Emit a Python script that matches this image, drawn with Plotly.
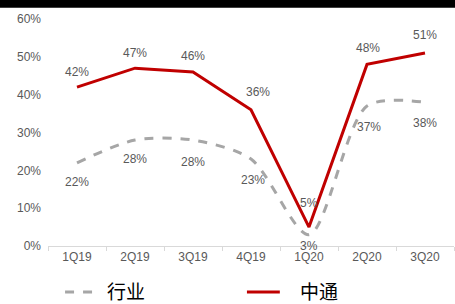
import plotly.graph_objects as go

categories = ["1Q19", "2Q19", "3Q19", "4Q19", "1Q20", "2Q20", "3Q20"]
industry = [22, 28, 28, 23, 3, 37, 38]
zto = [42, 47, 46, 36, 5, 48, 51]
y_ticks = [0, 10, 20, 30, 40, 50, 60]
y_tick_labels = ["0%", "10%", "20%", "30%", "40%", "50%", "60%"]

# label offsets in pixels (style only)
industry_label_shift = [-19, -19, -22, -21, -11, -21, -21]
industry_label_xshift = [0, 0, 0, 2, 0, 2, 0]
zto_label_shift = [15, 15, 16, 18, 24, 16, 18]
zto_label_xshift = [0, 0, 0, 7, 0, 1, 0]

label_font = dict(family="Liberation Sans, Arial", size=12, color="#595959")

fig = go.Figure()
fig.add_trace(go.Scatter(
    x=categories, y=industry, name="行业", mode="lines",
    line=dict(color="#A6A6A6", width=3, dash="dash", shape="spline", smoothing=0.8),
    hoverinfo="skip",
))
fig.add_trace(go.Scatter(
    x=categories, y=zto, name="中通", mode="lines",
    line=dict(color="#C00000", width=3),
    hoverinfo="skip",
))

annotations = []
for c, v, ys, xs in zip(categories, industry, industry_label_shift, industry_label_xshift):
    annotations.append(dict(x=c, y=v, text=f"{v}%", showarrow=False, yshift=ys,
                            xshift=xs, font=label_font))
for c, v, ys, xs in zip(categories, zto, zto_label_shift, zto_label_xshift):
    annotations.append(dict(x=c, y=v, text=f"{v}%", showarrow=False, yshift=ys,
                            xshift=xs, font=label_font))

legend_font = dict(family="Noto Sans CJK SC", size=19, color="#000000")
annotations.append(dict(xref="paper", yref="paper", x=0.140, y=-0.196,
                        xanchor="left", yanchor="middle", text="行业",
                        showarrow=False, font=legend_font))
annotations.append(dict(xref="paper", yref="paper", x=0.616, y=-0.196,
                        xanchor="left", yanchor="middle", text="中通",
                        showarrow=False, font=legend_font))

fig.update_layout(
    width=455, height=304,
    margin=dict(l=48, r=1, t=19, b=58, autoexpand=False),
    paper_bgcolor="white", plot_bgcolor="white",
    showlegend=False,
    xaxis=dict(type="category", range=[-0.5, 6.5], showgrid=False, showline=True,
               linecolor="#D9D9D9", linewidth=1, ticks="outside", ticklen=4,
               tickcolor="#D9D9D9", tickson="boundaries",
               tickfont=dict(family="Liberation Sans, Arial", size=12, color="#595959")),
    yaxis=dict(range=[0, 60], tickvals=y_ticks, ticktext=y_tick_labels,
               showgrid=False, zeroline=False, showline=False, ticklabelstandoff=6,
               tickfont=dict(family="Liberation Sans, Arial", size=12, color="#595959")),
    annotations=annotations,
    shapes=[
        dict(type="rect", xref="paper", yref="paper", layer="above",
             x0=-0.13, x1=1.01, y0=1.050, y1=1.0837,
             fillcolor="black", line=dict(width=0)),
        dict(type="line", xref="paper", yref="paper",
             x0=0.042, x1=0.121, y0=-0.2026, y1=-0.2026,
             line=dict(color="#A6A6A6", width=3, dash="dash")),
        dict(type="line", xref="paper", yref="paper",
             x0=0.490, x1=0.571, y0=-0.2026, y1=-0.2026,
             line=dict(color="#C00000", width=3)),
    ],
)

fig.write_html("out.html", config={"displayModeBar": False},
               post_script="document.body.style.margin='0';document.body.style.padding='0';")
